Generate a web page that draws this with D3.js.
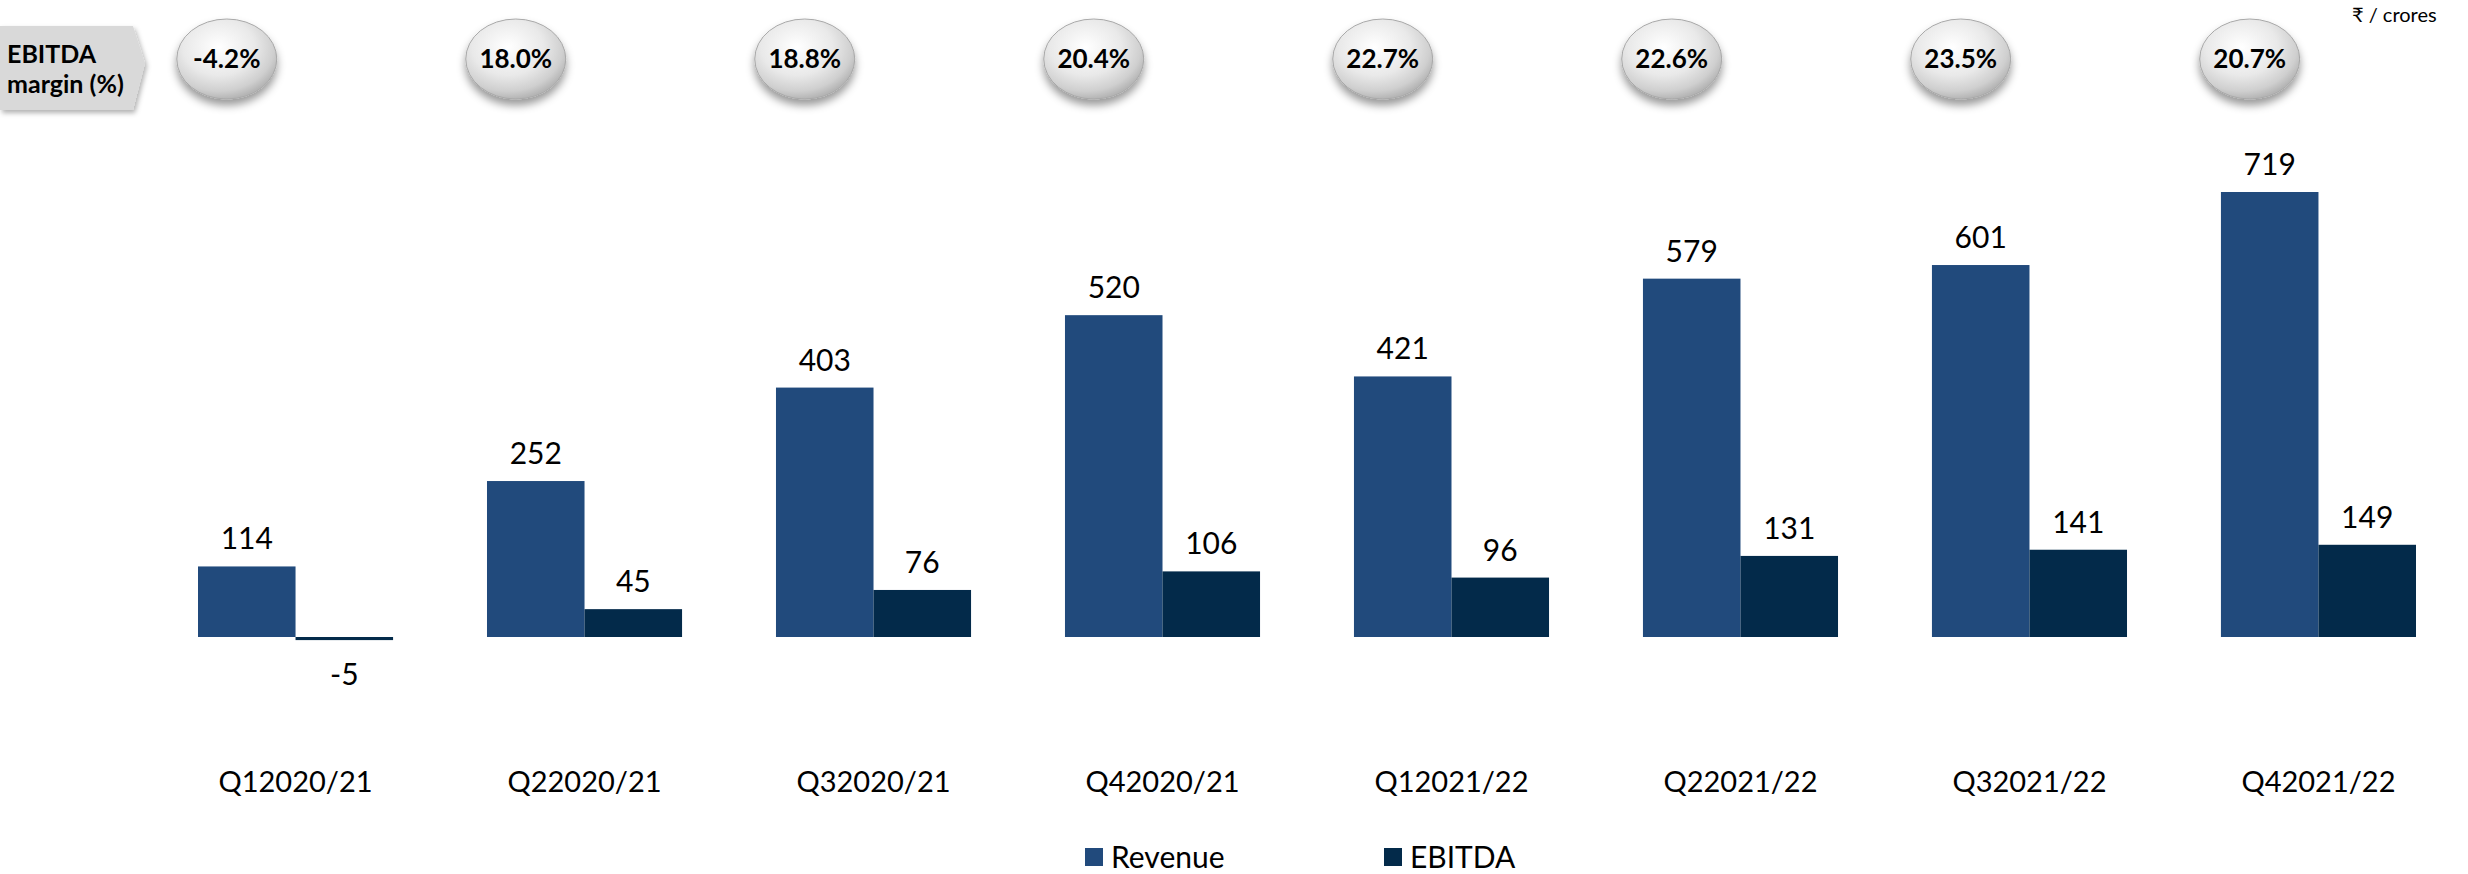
<!DOCTYPE html>
<html>
<head>
<meta charset="utf-8">
<script src="https://cdn.jsdelivr.net/npm/d3@7"></script>
<style>
  html, body { margin: 0; padding: 0; background: #fff; }
  svg { display: block; font-family: Lato, "Open Sans", sans-serif; }
  .val { font-size: 30px; fill: #000; }
  .cat { font-size: 29px; fill: #000; }
  .bubble-text { font-size: 26px; font-weight: bold; fill: #000; }
  .legend-text { font-size: 30px; fill: #000; }
</style>
</head>
<body>
<div id="chart"></div>
<script>
// data
const quarters = ["Q12020/21", "Q22020/21", "Q32020/21", "Q42020/21",
                  "Q12021/22", "Q22021/22", "Q32021/22", "Q42021/22"];
const revenue = [114, 252, 403, 520, 421, 579, 601, 719];
const ebitda = [-5, 45, 76, 106, 96, 131, 141, 149];
const margins = ["-4.2%", "18.0%", "18.8%", "20.4%", "22.7%", "22.6%", "23.5%", "20.7%"];
const seriesNames = ["Revenue", "EBITDA"];
const colors = { Revenue: "#214a7c", EBITDA: "#032a4a" };

const width = 2468, height = 874;

const svg = d3.select("#chart").append("svg")
  .attr("width", width)
  .attr("height", height);

// --- defs: gradient + shadow for the margin bubbles ---
const defs = svg.append("defs");
const grad = defs.append("radialGradient")
  .attr("id", "bubbleGrad")
  .attr("cx", "42%").attr("cy", "35%").attr("r", "65%");
grad.append("stop").attr("offset", "0%").attr("stop-color", "#ffffff");
grad.append("stop").attr("offset", "55%").attr("stop-color", "#e9e9e9");
grad.append("stop").attr("offset", "85%").attr("stop-color", "#cfcfcf");
grad.append("stop").attr("offset", "100%").attr("stop-color", "#b5b5b5");

const shadow = defs.append("filter").attr("id", "shadow")
  .attr("x", "-30%").attr("y", "-30%").attr("width", "160%").attr("height", "170%");
shadow.append("feDropShadow")
  .attr("dx", 0).attr("dy", 6).attr("stdDeviation", 4)
  .attr("flood-color", "#000").attr("flood-opacity", 0.4);

const tagShadow = defs.append("filter").attr("id", "tagShadow")
  .attr("x", "-10%").attr("y", "-10%").attr("width", "130%").attr("height", "140%");
tagShadow.append("feDropShadow")
  .attr("dx", 2).attr("dy", 3).attr("stdDeviation", 2.5)
  .attr("flood-color", "#000").attr("flood-opacity", 0.3);

// --- scales ---
const x0 = d3.scaleBand()
  .domain(quarters)
  .range([198, 2416])
  .paddingInner(0.325)
  .paddingOuter(0);

const x1 = d3.scaleBand()
  .domain(seriesNames)
  .range([0, x0.bandwidth()])
  .padding(0);

const y = d3.scaleLinear()
  .domain([0, 719])
  .range([637, 192]);

const rows = quarters.map((q, i) => ({
  q,
  values: [
    { key: "Revenue", v: revenue[i] },
    { key: "EBITDA", v: ebitda[i] }
  ],
  margin: margins[i]
}));

// --- bars ---
const groups = svg.append("g")
  .selectAll("g")
  .data(rows)
  .join("g")
  .attr("transform", d => `translate(${x0(d.q)},0)`);

groups.selectAll("rect")
  .data(d => d.values)
  .join("rect")
  .attr("x", d => x1(d.key))
  .attr("width", x1.bandwidth())
  .attr("y", d => y(Math.max(0, d.v)))
  .attr("height", d => Math.max(2, Math.abs(y(d.v) - y(0))))
  .attr("fill", d => colors[d.key]);

// value labels
groups.selectAll("text.val")
  .data(d => d.values)
  .join("text")
  .attr("class", "val")
  .attr("text-anchor", "middle")
  .attr("x", d => x1(d.key) + x1.bandwidth() / 2)
  .attr("y", d => d.v >= 0 ? y(d.v) - 17 : y(d.v) + 45)
  .text(d => d.v);

// category labels
svg.append("g")
  .selectAll("text")
  .data(quarters)
  .join("text")
  .attr("class", "cat")
  .attr("text-anchor", "middle")
  .attr("x", d => x0(d) + x0.bandwidth() / 2)
  .attr("y", 792)
  .text(d => d);

// --- EBITDA margin bubbles ---
const bubbles = svg.append("g")
  .selectAll("g")
  .data(rows)
  .join("g")
  .attr("transform", d => `translate(${x0(d.q) + x1.bandwidth() / 2 - 20},59)`);

bubbles.append("ellipse")
  .attr("rx", 50).attr("ry", 40)
  .attr("fill", "url(#bubbleGrad)")
  .attr("stroke", "#a8a8a8")
  .attr("stroke-width", 1)
  .attr("filter", "url(#shadow)");

bubbles.append("text")
  .attr("class", "bubble-text")
  .attr("text-anchor", "middle")
  .attr("dy", "0.35em")
  .text(d => d.margin);

// --- "EBITDA margin (%)" tag ---
const tag = svg.append("g");
tag.append("path")
  .attr("d", "M0,26 L133,26 L145,63 L133,110 L0,110 Z")
  .attr("fill", "#d9d9d9")
  .attr("filter", "url(#tagShadow)");
tag.append("text")
  .attr("x", 7).attr("y", 63)
  .attr("font-size", 25).attr("font-weight", "bold")
  .text("EBITDA");
tag.append("text")
  .attr("x", 7).attr("y", 93)
  .attr("font-size", 25).attr("font-weight", "bold")
  .text("margin (%)");

// unit label
svg.append("text")
  .attr("x", 2352).attr("y", 22)
  .attr("font-size", 20)
  .text("₹ / crores");

// --- legend ---
const legend = svg.append("g")
  .selectAll("g")
  .data(seriesNames)
  .join("g")
  .attr("transform", (d, i) => `translate(${1085 + i * 299},848)`);

legend.append("rect")
  .attr("width", 18).attr("height", 18)
  .attr("fill", d => colors[d]);

legend.append("text")
  .attr("class", "legend-text")
  .attr("x", 26).attr("y", 20)
  .text(d => d);
</script>
</body>
</html>
